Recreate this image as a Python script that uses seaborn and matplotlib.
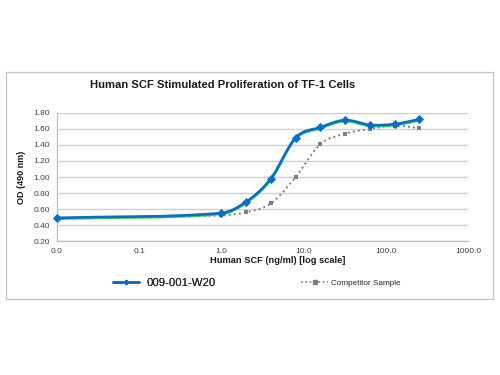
import numpy as np
import seaborn as sns
import matplotlib.pyplot as plt
from matplotlib.path import Path
from matplotlib.patches import PathPatch, Rectangle
from matplotlib.lines import Line2D

# Concentrations (ng/ml), first point plotted at the axis start
conc = [0.01, 1, 2, 4, 8, 16, 32, 64, 128, 256]
od_w20 = [0.49, 0.55, 0.69, 0.98, 1.49, 1.62, 1.71, 1.65, 1.66, 1.72]
od_w20_b = [0.478, 0.538, 0.677, 0.966, 1.477, 1.607, 1.697, 1.636, 1.647, 1.705]
od_comp = [0.49, 0.52, 0.56, 0.67, 1.00, 1.41, 1.54, 1.60, 1.64, 1.61]

x_ticks = [0.01, 0.1, 1, 10, 100, 1000]
x_labels = ["0.0", "0.1", "1.0", "10.0", "100.0", "1000.0"]
y_ticks = [0.2, 0.4, 0.6, 0.8, 1.0, 1.2, 1.4, 1.6, 1.8]

sns.set_style("white")
plt.rcParams['font.family'] = ['Liberation Sans', 'DejaVu Sans']


def smooth_path(xs, ys):
    # cubic Hermite through the points in log-x space (Excel-like smoothing)
    u = np.log10(np.asarray(xs, float))
    y = np.asarray(ys, float)
    n = len(u)
    m = np.zeros(n)
    m[0] = (y[1] - y[0]) / (u[1] - u[0])
    m[-1] = (y[-1] - y[-2]) / (u[-1] - u[-2])
    for i in range(1, n - 1):
        m[i] = (y[i + 1] - y[i - 1]) / (u[i + 1] - u[i - 1])
    verts = [(u[0], y[0])]
    codes = [Path.MOVETO]
    for i in range(n - 1):
        h = u[i + 1] - u[i]
        verts += [(u[i] + h / 3, y[i] + m[i] * h / 3),
                  (u[i + 1] - h / 3, y[i + 1] - m[i + 1] * h / 3),
                  (u[i + 1], y[i + 1])]
        codes += [Path.CURVE4] * 3
    v = np.array(verts)
    v[:, 0] = 10 ** v[:, 0]
    return Path(v, codes)


fig = plt.figure(figsize=(5, 3.75), dpi=100)
ax = fig.add_axes([0.114, 0.357, 0.822, 0.342])
ax.set_xscale('log')

blue = '#0a6fc2'
green = '#3fd15a'
gray = '#7f7f7f'

ax.add_patch(PathPatch(smooth_path(conc, od_comp), fill=False, edgecolor=gray,
                       lw=1.4, linestyle=(0, (1, 1.6)), zorder=3))
ax.add_patch(PathPatch(smooth_path(conc, od_w20_b), fill=False, edgecolor=green,
                       lw=1.8, zorder=4))
ax.add_patch(PathPatch(smooth_path(conc, od_w20), fill=False, edgecolor=blue,
                       lw=1.9, zorder=5))

sns.scatterplot(x=conc, y=od_comp, ax=ax, marker='s', s=10, color=gray,
                edgecolor=gray, linewidth=0, zorder=6, clip_on=False)
sns.scatterplot(x=conc, y=od_w20, ax=ax, marker='D', s=22, color=blue,
                edgecolor=blue, linewidth=0, zorder=7, clip_on=False)

ax.set_xlim(0.01, 1000)
ax.set_ylim(0.2, 1.8)
ax.set_xticks(x_ticks)
ax.set_xticklabels(x_labels)
ax.minorticks_off()
ax.set_yticks(y_ticks)
ax.set_yticklabels([f"{v:.2f}" for v in y_ticks])
ax.yaxis.grid(True, color='#cfcfcf', lw=1.0)
ax.set_axisbelow(True)
for side in ['top', 'right']:
    ax.spines[side].set_visible(False)
for side in ['left', 'bottom']:
    ax.spines[side].set_color('#bdbdbd')
    ax.spines[side].set_linewidth(0.9)
ax.tick_params(axis='both', labelsize=6.0, colors='#bdbdbd', labelcolor='#404040',
               length=3, width=0.8, direction='out', pad=2)

ax.set_xlabel("Human SCF (ng/ml) [log scale]", fontsize=6.7, fontweight='bold',
              color='#1a1a1a')
ax.xaxis.set_label_coords(0.538, -0.115)
ax.set_ylabel("OD (490 nm)", fontsize=6.5, fontweight='bold', color='#1a1a1a',
              labelpad=5)

fig.text(0.446, 0.773, "Human SCF Stimulated Proliferation of TF-1 Cells",
         ha='center', va='center', fontsize=8.1, fontweight='bold', color='#1a1a1a')

h1 = Line2D([], [], color=blue, lw=1.9, marker='D', markersize=2.2)
leg1 = fig.legend([h1], ["009-001-W20"], loc='center left',
                  bbox_to_anchor=(0.226, 0.245), frameon=False, fontsize=8.2,
                  handlelength=2.3, handletextpad=0.6, borderpad=0, borderaxespad=0)
h2 = Line2D([], [], color=gray, lw=1.2, linestyle=(0, (1, 1.6)), marker='s',
            markersize=2.2)
leg2 = fig.legend([h2], ["Competitor Sample"], loc='center left',
                  bbox_to_anchor=(0.602, 0.245), frameon=False, fontsize=5.9,
                  handlelength=3.3, handletextpad=0.4, borderpad=0, borderaxespad=0)
fig.add_artist(leg1)

fig.add_artist(Rectangle((0.012, 1 - 299 / 375), 0.974, (299 - 72) / 375,
                         transform=fig.transFigure, fill=False,
                         edgecolor='#c4c4c4', lw=0.9))

fig.savefig("out.png", dpi=100)
